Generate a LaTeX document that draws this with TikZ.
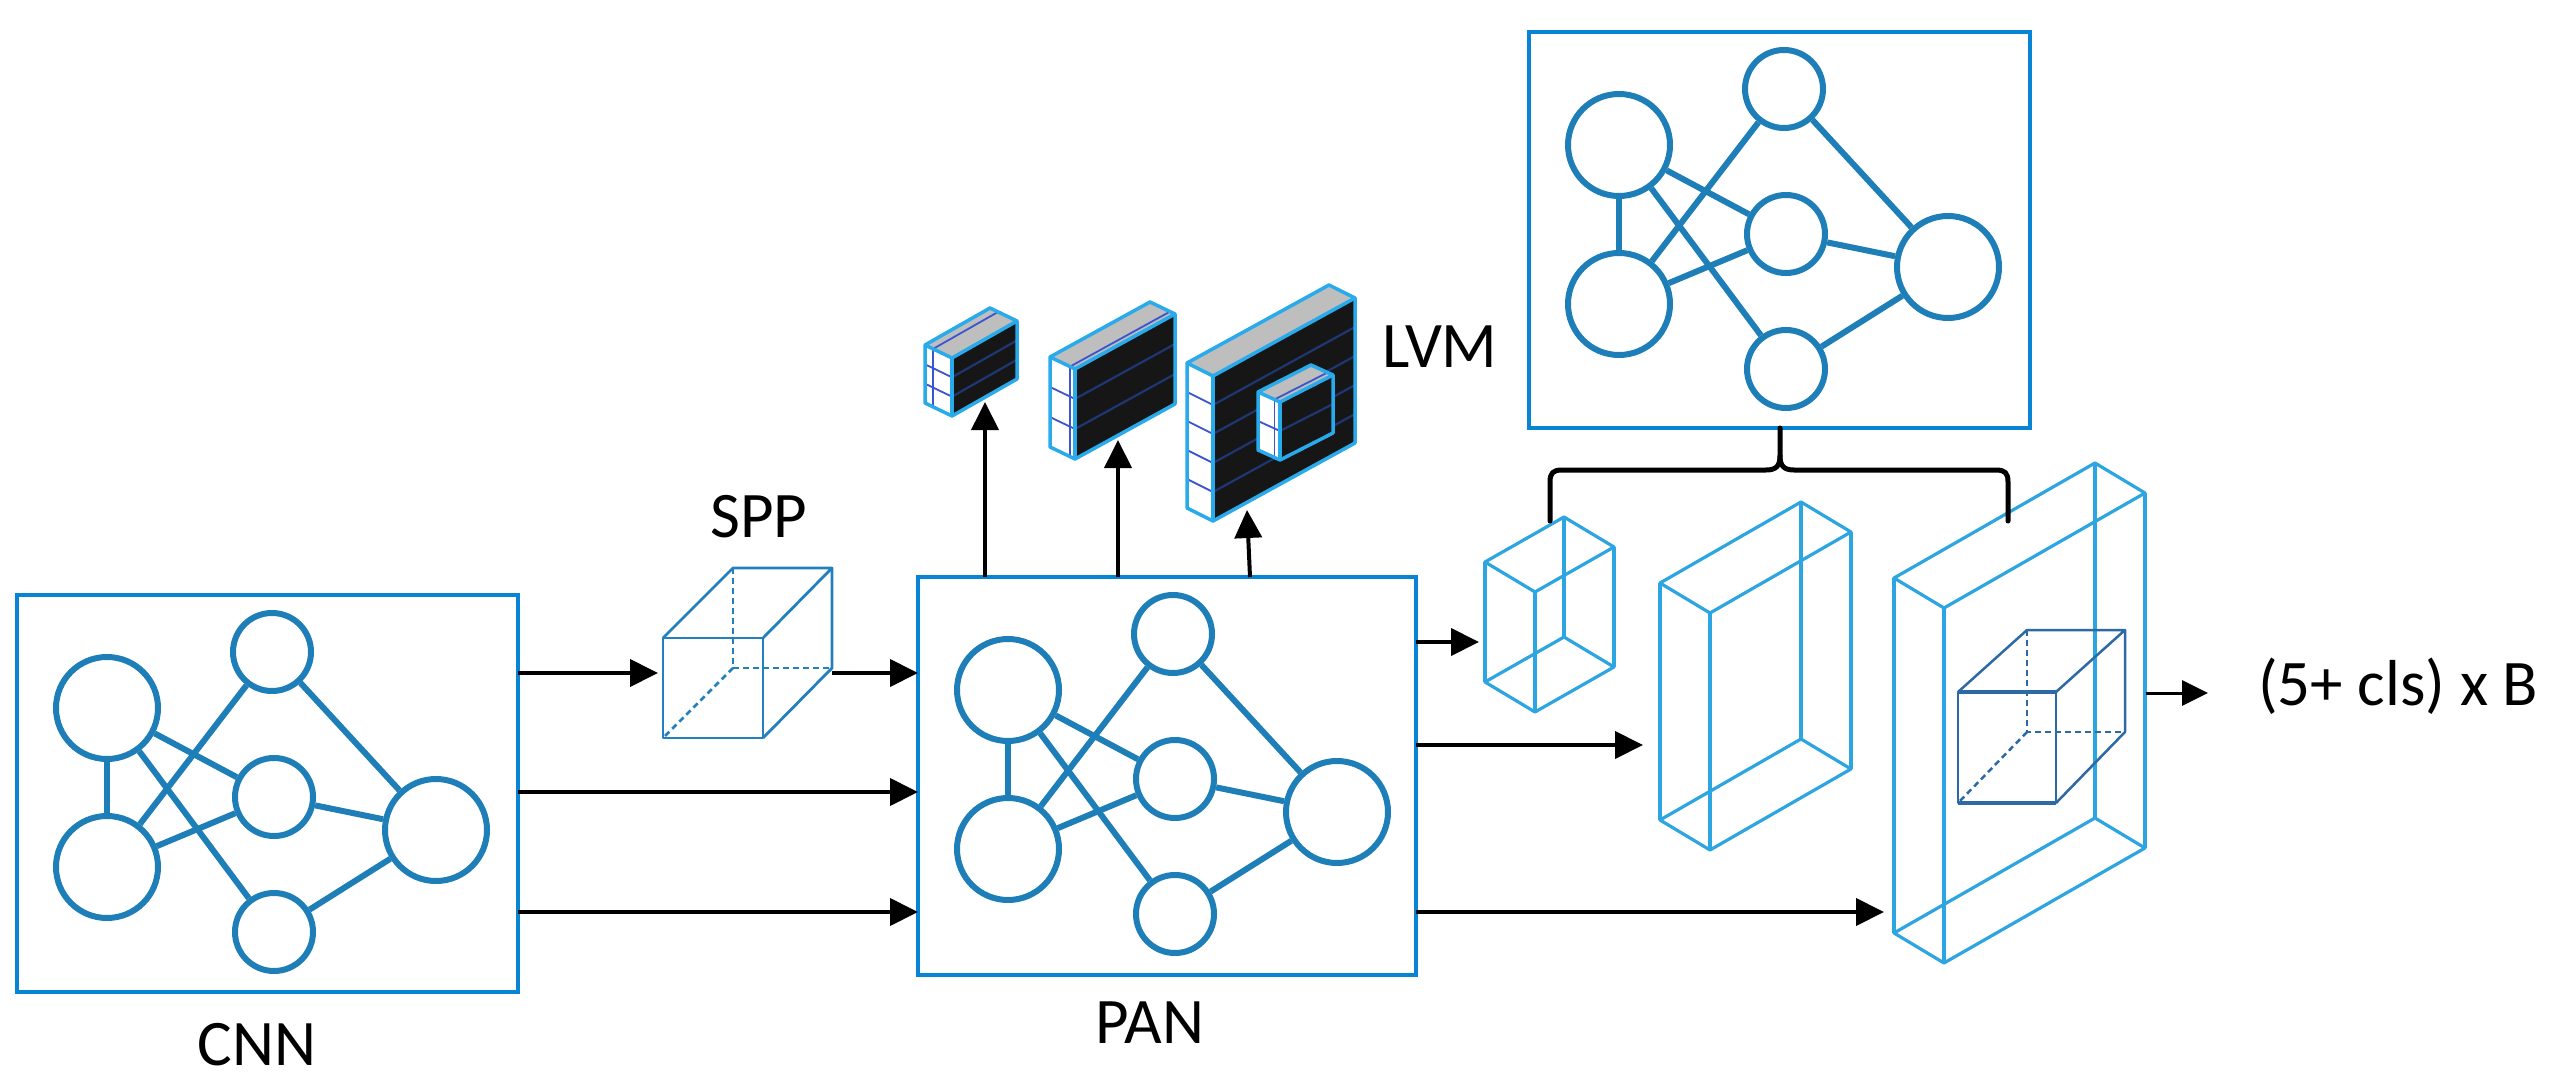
\documentclass[tikz,border=0pt]{standalone}
\usepackage{fontspec}
\setmainfont{Carlito}
\usetikzlibrary{arrows.meta}
\definecolor{boxblue}{RGB}{8,132,212}
\definecolor{netblue}{RGB}{30,126,184}
\definecolor{slabblue}{RGB}{45,165,225}
\definecolor{cubeblue}{RGB}{35,128,190}
\definecolor{innerblue}{RGB}{45,105,165}
\definecolor{gridblue}{RGB}{60,85,205}
\definecolor{blockline}{RGB}{40,170,235}
\definecolor{topgray}{RGB}{190,190,190}
\definecolor{blockblack}{RGB}{22,22,22}
\definecolor{rowline}{RGB}{30,55,115}
\tikzset{
  netbox/.style={draw=boxblue, line width=4pt, inner sep=0pt, minimum width=#1},
  bignode/.style={circle, draw=netblue, line width=6pt, minimum size=102pt, inner sep=0pt},
  smallnode/.style={circle, draw=netblue, line width=6pt, minimum size=78pt, inner sep=0pt},
  netedge/.style={draw=netblue, line width=6pt},
  arr/.style={line width=4pt, -{Triangle[length=28pt,width=27pt]}},
  arrsmall/.style={line width=3pt, -{Triangle[length=26pt,width=25pt]}},
  lbl/.style={font=\fontsize{65}{78}\selectfont, inner sep=0pt},
  slab/.style={draw=slabblue, line width=3.2pt, line join=round},
  spp/.style={draw=cubeblue, line width=2.8pt, line join=round},
  inner/.style={draw=innerblue, line width=2.5pt, line join=round},
  hidden/.style={dash pattern=on 6pt off 4pt},
  blockout/.style={draw=blockline, line width=3.5pt, line join=round},
  gridl/.style={draw=gridblue, line width=1.8pt},
  rowl/.style={draw=rowline, line width=2.2pt},
  brace/.style={line width=5pt, line cap=round, line join=round},
}
% network drawing: #1 x-left, #2 y-top of the box, #3 prefix
\newcommand\netgraph[3]{%
  \begin{scope}[shift={(#1,#2)}]
    \node[bignode] (#3a) at (90,113) {};
    \node[bignode] (#3b) at (90,272) {};
    \node[smallnode] (#3c) at (255,57) {};
    \node[smallnode] (#3d) at (257,202) {};
    \node[smallnode] (#3e) at (257,337) {};
    \node[bignode] (#3f) at (419,235) {};
    \draw[netedge] (#3a) -- (#3b);
    \draw[netedge] (#3a) -- (#3d);
    \draw[netedge] (#3a) -- (#3e);
    \draw[netedge] (#3b) -- (#3c);
    \draw[netedge] (#3b) -- (#3d);
    \draw[netedge] (#3c) -- (#3f);
    \draw[netedge] (#3d) -- (#3f);
    \draw[netedge] (#3e) -- (#3f);
  \end{scope}}
% wireframe prism: #1,#2 left-top corner, #3,#4 vector to back corner, #5 height
\newcommand\prism[5]{%
  \draw[slab] (#1,#2) -- (#1+50,#2+30) -- (#1+50+#3,#2+30+#4) -- (#1+#3,#2+#4) -- cycle;
  \draw[slab] (#1,#2+#5) -- (#1+50,#2+30+#5) -- (#1+50+#3,#2+30+#4+#5) -- (#1+#3,#2+#4+#5) -- cycle;
  \draw[slab] (#1,#2) -- (#1,#2+#5);
  \draw[slab] (#1+50,#2+30) -- (#1+50,#2+30+#5);
  \draw[slab] (#1+#3,#2+#4) -- (#1+#3,#2+#4+#5);
  \draw[slab] (#1+50+#3,#2+30+#4) -- (#1+50+#3,#2+30+#4+#5);}
% feature block: P=(#1,#2), d=(#3,#4), w=(#5,-#6), height #7, row fractions #8, layer fraction #9
\newcommand\featblock[9]{%
  \fill[white] (#1,#2) -- (#1+#3,#2+#4) -- (#1+#3,#2+#4+#7) -- (#1,#2+#7) -- cycle;
  \fill[topgray] (#1,#2) -- (#1+#5,#2-#6) -- (#1+#5+#3,#2-#6+#4) -- (#1+#3,#2+#4) -- cycle;
  \fill[blockblack] (#1+#3,#2+#4) -- (#1+#3+#5,#2+#4-#6) -- (#1+#3+#5,#2+#4-#6+#7) -- (#1+#3,#2+#4+#7) -- cycle;
  \foreach \f in {#8} {
    \draw[gridl] (#1,#2+\f*#7) -- (#1+#3,#2+#4+\f*#7);
    \draw[rowl] (#1+#3,#2+#4+\f*#7) -- (#1+#3+#5,#2+#4-#6+\f*#7);
  }
  \draw[gridl] (#1+#9*#3,#2+#9*#4) -- (#1+#9*#3,#2+#9*#4+#7);
  \draw[gridl] (#1+#9*#3,#2+#9*#4) -- (#1+#9*#3+#5,#2+#9*#4-#6);
  \draw[blockout] (#1,#2) -- (#1+#5,#2-#6) -- (#1+#5+#3,#2-#6+#4) -- (#1+#3+#5,#2+#4-#6+#7) -- (#1+#3,#2+#4+#7) -- (#1,#2+#7) -- cycle;
  \draw[blockout] (#1,#2) -- (#1+#3,#2+#4) -- (#1+#3+#5,#2+#4-#6);
  \draw[blockout] (#1+#3,#2+#4) -- (#1+#3,#2+#4+#7);}

\begin{document}
\begin{tikzpicture}[x=1pt,y=-1pt]
\useasboundingbox (0,0) rectangle (2560,1083);

% boxes
\node[netbox=501pt, minimum height=397pt] (cnn) at (267.5,793.5) {};
\node[netbox=498pt, minimum height=398pt] (pan) at (1167,776) {};
\node[netbox=501pt, minimum height=396pt] (head) at (1779.5,230) {};
\netgraph{17}{595}{c}
\netgraph{918}{577}{p}
\netgraph{1529}{32}{h}

% labels
\node[lbl, anchor=base] (cnnlbl) at (257,1065) {CNN};
\node[lbl, anchor=base] (panlbl) at (1150,1043) {PAN};
\node[lbl, anchor=base] (spplbl) at (759,537) {SPP};
\node[lbl, anchor=base] (lvmlbl) at (1440,367) {LVM};
\node[lbl, anchor=base west] (outlbl) at (2258,705) {(5+ cls) x B};

% SPP cube
\draw[spp] (663,638) rectangle (763,738);
\draw[spp] (663,638) -- (733,568) -- (832,568) -- (763,638);
\draw[spp] (832,568) -- (832,668) -- (763,738);
\draw[spp, hidden] (733,568) -- (733,668) -- (832,668);
\draw[spp, hidden] (733,668) -- (663,738);

% feature blocks (LVM)
\featblock{925}{345}{27}{13}{65}{37}{58}{0.333,0.667}{0.3}
\featblock{1050}{357}{25}{12}{100}{55}{90}{0.333,0.667}{0.8}
\featblock{1187}{363}{26}{13}{142}{78}{145}{0.2,0.4,0.6,0.8}{0}
\featblock{1258}{392}{22}{10}{53}{27}{58}{0.5}{0.75}

% output prisms
\prism{1485}{562}{79}{-45}{120}
\prism{1660}{583}{141}{-81}{237}
\prism{1894}{578}{201}{-115}{355}

% inner cube in the big prism
\draw[inner] (1958,692) rectangle (2056,803);
\draw[inner, line width=3.5pt] (1958,692) -- (2056,692);
\draw[inner, line width=3.5pt] (1958,803) -- (2056,803);
\draw[inner] (1958,692) -- (2027,630) -- (2125,630) -- (2056,692);
\draw[inner] (2125,630) -- (2125,732) -- (2056,803);
\draw[inner, hidden] (2027,630) -- (2027,732) -- (2125,732);
\draw[inner, hidden] (2027,732) -- (1958,803);

% brace
\draw[brace] (1550,521) -- (1550,482) .. controls (1550,473) and (1553,470) .. (1562,470) -- (1766,470) .. controls (1776,470) and (1780,466) .. (1780,456) -- (1780,428);
\draw[brace] (2008,521) -- (2008,482) .. controls (2008,473) and (2005,470) .. (1996,470) -- (1794,470) .. controls (1784,470) and (1780,466) .. (1780,456);

% connector end points
\coordinate (c1) at (518,673);
\coordinate (c2) at (518,792);
\coordinate (c3) at (518,912);
\coordinate (sppin) at (658,673);
\coordinate (sppout) at (832,673);
\coordinate (p1) at (918,673);
\coordinate (p2) at (918,792);
\coordinate (p3) at (918,912);
\coordinate (u1) at (985,577);
\coordinate (u2) at (1118,577);
\coordinate (u3) at (1250,577);
\coordinate (b1) at (985,402);
\coordinate (b2) at (1118,440);
\coordinate (b3) at (1247,510);
\coordinate (r1) at (1416,642);
\coordinate (r2) at (1416,745);
\coordinate (r3) at (1416,912);
\coordinate (s1) at (1479,642);
\coordinate (s2) at (1643,745);
\coordinate (s3) at (1884,912);
\coordinate (o1) at (2146,693);
\coordinate (o2) at (2208,693);

\draw[arr] (c1) -- (sppin);
\draw[arr] (sppout) -- (p1);
\draw[arr] (c2) -- (p2);
\draw[arr] (c3) -- (p3);
\draw[arr] (u1) -- (b1);
\draw[arr] (u2) -- (b2);
\draw[arr] (u3) -- (b3);
\draw[arr] (r1) -- (s1);
\draw[arr] (r2) -- (s2);
\draw[arr] (r3) -- (s3);
\draw[arrsmall] (o1) -- (o2);
\end{tikzpicture}
\end{document}
